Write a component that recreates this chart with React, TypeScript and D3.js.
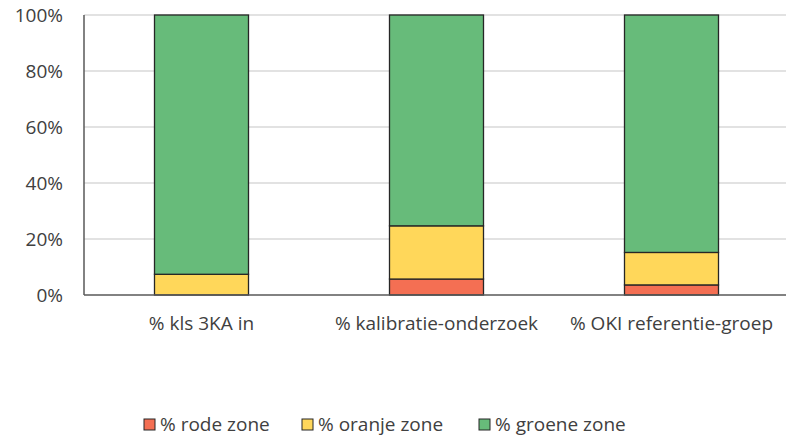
import { useRef, useEffect } from "react";
import * as d3 from "d3";

const categories = ["% kls 3KA in", "% kalibratie-onderzoek", "% OKI referentie-groep"];
const seriesNames = ["% rode zone", "% oranje zone", "% groene zone"];
const rode = [0, 5.7, 3.6];
const oranje = [7.4, 19.0, 11.6];
const groene = [92.6, 75.3, 84.8];
const yTicks = [0, 20, 40, 60, 80, 100];
const colors = ["#F46F53", "#FFD75A", "#67BB7A"];

export default function App() {
  const svgRef = useRef<SVGSVGElement>(null);

  useEffect(() => {
    const width = 786;
    const height = 437;
    const margin = { top: 15, right: 0, bottom: 142, left: 84 };
    const font = "'Open Sans', 'Noto Sans', sans-serif";
    const fs = 19;

    const svg = d3.select(svgRef.current)
      .attr("width", width)
      .attr("height", height)
      .style("position", "absolute")
      .style("left", "0px")
      .style("top", "0px")
      .style("font-family", font);
    svg.selectAll("*").remove();

    const rows = categories.map((c, i) => ({ cat: c, rode: rode[i], oranje: oranje[i], groene: groene[i] }));
    const keys = ["rode", "oranje", "groene"];
    const stacked = d3.stack<any>().keys(keys)(rows);

    const x = d3.scaleBand().domain(categories)
      .range([margin.left, margin.left + 3 * 235]).paddingInner(0.6).paddingOuter(0.3);
    const y = d3.scaleLinear().domain([0, 100]).range([height - margin.bottom, margin.top]);

    // gridlines
    svg.append("g").selectAll("line").data(yTicks.slice(1)).join("line")
      .attr("x1", margin.left).attr("x2", width)
      .attr("y1", d => y(d)).attr("y2", d => y(d))
      .attr("stroke", "#d9d9d9").attr("stroke-width", 1.3);

    // y labels
    svg.append("g").selectAll("text").data(yTicks).join("text")
      .attr("x", 63).attr("y", d => y(d)).attr("dy", "0.35em")
      .attr("text-anchor", "end").attr("font-size", fs).attr("fill", "#404040")
      .text(d => d + "%");

    // bars
    svg.append("g").selectAll("g").data(stacked).join("g")
      .attr("fill", (d, i) => colors[i])
      .selectAll("rect").data(d => d).join("rect")
      .attr("x", d => x(d.data.cat)!)
      .attr("width", x.bandwidth())
      .attr("y", d => y(d[1]))
      .attr("height", d => y(d[0]) - y(d[1]))
      .attr("stroke", "#262626").attr("stroke-width", 1.3);

    // axes lines
    svg.append("line")
      .attr("x1", margin.left).attr("x2", width)
      .attr("y1", y(0)).attr("y2", y(0))
      .attr("stroke", "#595959").attr("stroke-width", 1.5);
    svg.append("line")
      .attr("x1", margin.left).attr("x2", margin.left)
      .attr("y1", y(0)).attr("y2", y(100))
      .attr("stroke", "#595959").attr("stroke-width", 1.5);

    // category labels
    svg.append("g").selectAll("text").data(categories).join("text")
      .attr("x", d => x(d)! + x.bandwidth() / 2).attr("y", 323).attr("dy", "0.35em")
      .attr("text-anchor", "middle").attr("font-size", fs).attr("fill", "#404040")
      .text(d => d);

    // legend
    const legendX = [144, 302, 479];
    const lg = svg.append("g").selectAll("g").data(seriesNames).join("g")
      .attr("transform", (d, i) => `translate(${legendX[i]},424)`);
    lg.append("rect").attr("x", 0).attr("y", -5).attr("width", 11).attr("height", 11)
      .attr("fill", (d, i) => colors[i]).attr("stroke", "#262626").attr("stroke-width", 1);
    lg.append("text").attr("x", 16).attr("dy", "0.35em")
      .attr("font-size", fs).attr("fill", "#404040").text(d => d);
  }, []);

  return <svg ref={svgRef}></svg>;
}
